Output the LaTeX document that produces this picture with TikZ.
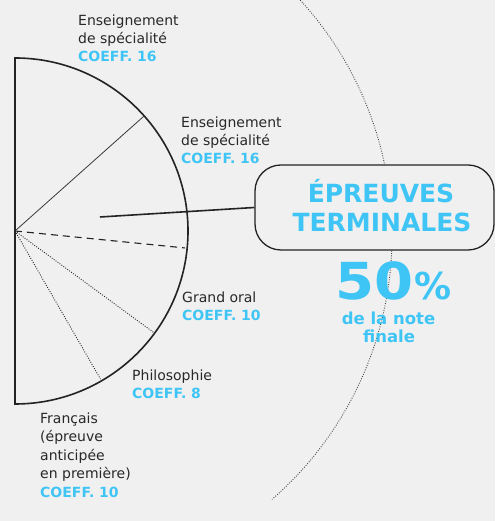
\documentclass[tikz,border=0pt]{standalone}
\usepackage{fontspec}
\setmainfont{DejaVu Sans}
\definecolor{bgc}{RGB}{240,240,240}
\definecolor{bluec}{RGB}{62,197,245}
\definecolor{txtc}{RGB}{40,40,40}
\definecolor{linec}{RGB}{35,35,35}
\newcommand\mycoeff[1]{\textcolor{bluec}{\bfseries COEFF.~#1}}
\begin{document}
\begin{tikzpicture}[x=1pt,y=1pt,
  lbl/.style={anchor=north west, inner sep=0pt, align=left, text=txtc, font=\fontsize{14}{18}\selectfont},
  spoke/.style={draw=linec!90, line width=0.8pt},
  dotline/.style={draw=linec, line width=0.9pt, dash pattern=on 0.9pt off 1.5pt},
  dashline/.style={draw=linec, line width=1.1pt, dash pattern=on 7pt off 5pt},
  titletxt/.style={anchor=base, inner sep=0pt, text=bluec, font=\fontsize{25}{29}\selectfont\bfseries},
  subtxt/.style={anchor=base, inner sep=0pt, text=bluec, font=\fontsize{16.5}{18}\selectfont\bfseries},
  pill/.style={draw=linec, line width=1.3pt, fill=bgc, rounded corners=26pt, minimum width=239pt, minimum height=85pt, inner sep=0pt}]
\useasboundingbox (0,0) rectangle (495,521);
\fill[bgc] (0,0) rectangle (495,521);
\clip (0,0) rectangle (495,521);

% outer dotted arc
\coordinate (O) at (43,285);
\draw[dotline, draw=linec!85] (O) ++(50:349) arc[start angle=50, end angle=-49, radius=349];

% semicircle
\coordinate (C) at (15,290);
\draw[linec, line width=1.6pt] (15,463) arc[start angle=90, end angle=-90, radius=173] -- cycle;

% spokes
\path (C) ++(41.7:173) coordinate (s1);
\path (C) ++(-5.7:171) coordinate (s2);
\path (C) ++(-36.2:172) coordinate (s3);
\path (C) ++(-60:171) coordinate (s4);
\draw[spoke] (C) -- (s1);
\draw[dashline] (C) -- (s2);
\draw[dotline] (C) -- (s3);
\draw[dotline] (C) -- (s4);

% box
\node[pill] (box) at (374.5,313.5) {};
\coordinate (cstart) at (100,304);
\draw[linec, line width=1.6pt] (cstart) -- (box.west);

\node[titletxt] (t1) at (381,318) {ÉPREUVES};
\node[titletxt] (t2) at (382,289) {TERMINALES};
\node[anchor=base west, inner sep=0pt, xscale=1.1, text=bluec, font=\fontsize{51}{51}\selectfont\bfseries] (fifty) at (335,221) {50};
\node[anchor=base west, inner sep=0pt, text=bluec, font=\fontsize{37}{37}\selectfont\bfseries] (pct) at (414,221) {\%};
\node[subtxt] (sub1) at (388.5,196) {de la note};
\node[subtxt] (sub2) at (389,178) {finale};

% labels
\node[lbl] (l1) at (78,506.6) {Enseignement\\de spécialité\\\mycoeff{16}};
\node[lbl] (l2) at (181,404.6) {Enseignement\\de spécialité\\\mycoeff{16}};
\node[lbl] (l3) at (182,229.6) {Grand oral\\\mycoeff{10}};
\node[lbl] (l4) at (132,151.6) {Philosophie\\\mycoeff{8}};
\node[lbl, font=\fontsize{14}{18.5}\selectfont] (l5) at (40,108.6) {Français\\(épreuve\\anticipée\\en première)\\\mycoeff{10}};
\end{tikzpicture}
\end{document}
